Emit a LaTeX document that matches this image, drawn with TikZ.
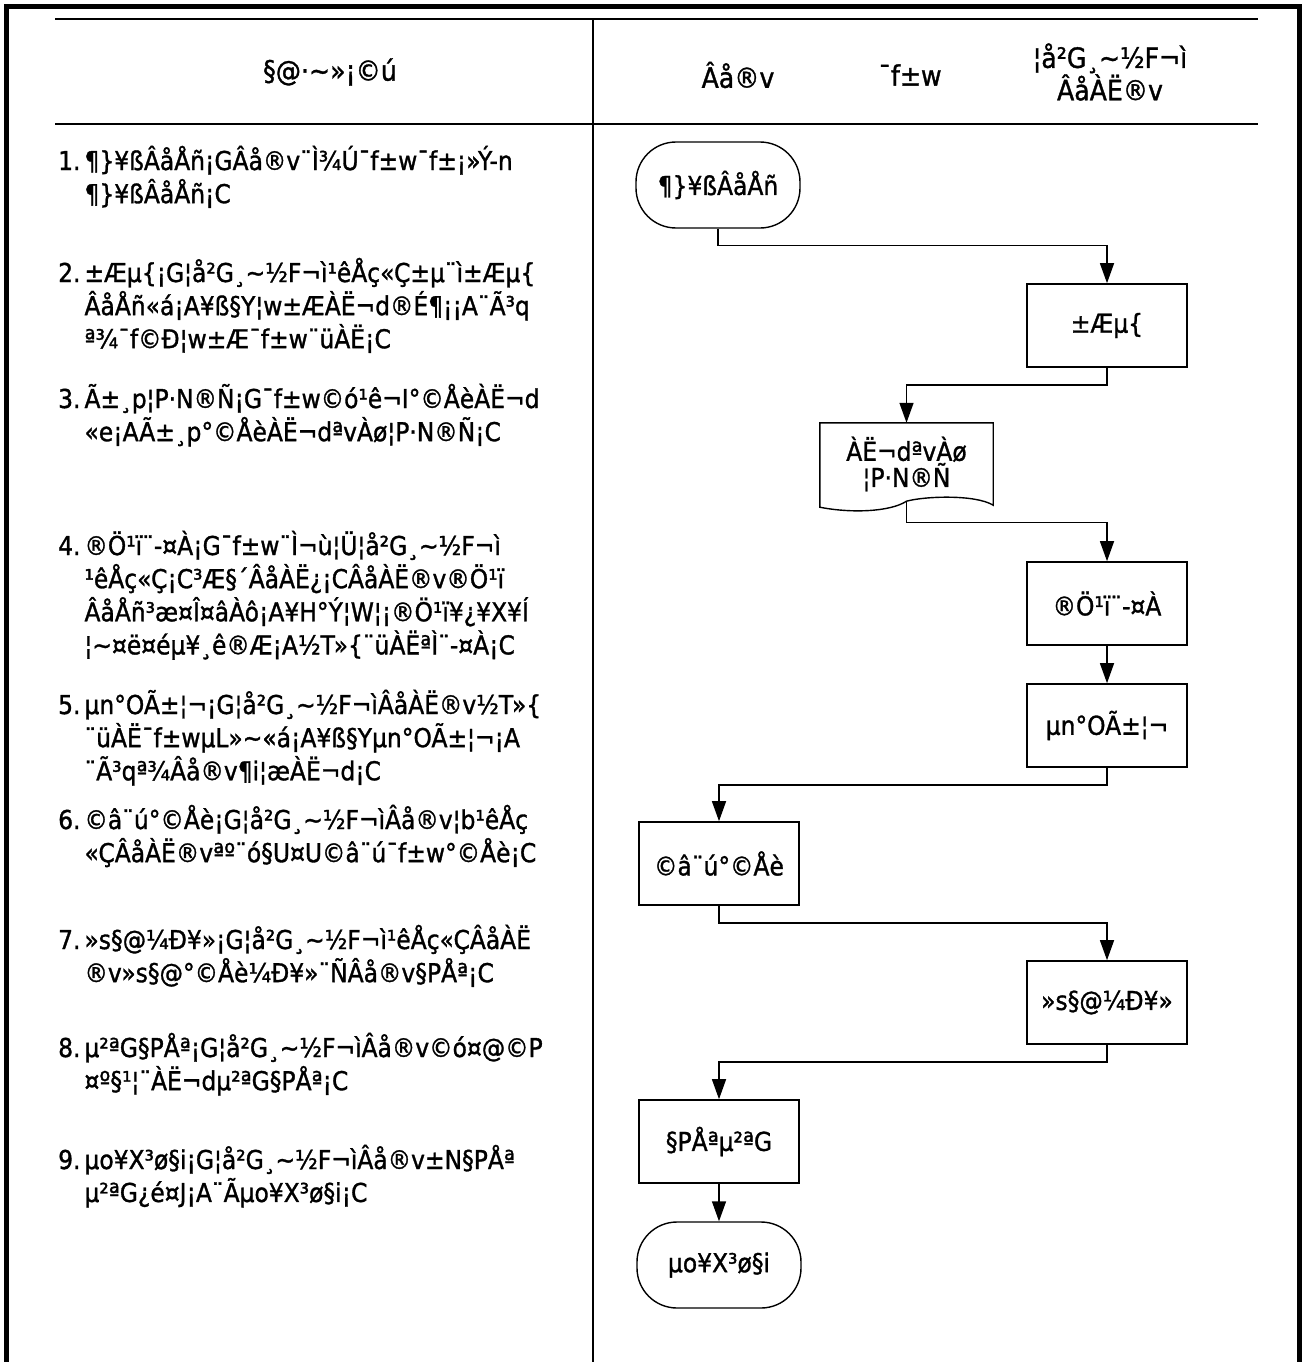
\documentclass[tikz,border=0pt]{standalone}
\usepackage{fontspec}
\setmainfont{DejaVu Sans}[FakeStretch=0.9,FakeBold=1.2]
\usetikzlibrary{arrows.meta,positioning,calc}

\newcommand{\wave}{\textasciitilde}
\newcommand{\stepnote}[2]{\begin{tabular}[t]{@{}l@{\hspace{4pt}}l@{}}#1&#2\end{tabular}}

\begin{document}
\begin{tikzpicture}[x=1pt, y=-1pt, >={Triangle[length=20pt,width=14pt]},
  every node/.style={font=\fontsize{26}{30}\selectfont},
  procbox/.style={draw, line width=1.6pt, minimum width=160pt, minimum height=83pt, inner sep=2pt},
  termbox/.style={draw, line width=1.4pt, rounded corners=40pt, minimum width=164pt, minimum height=86pt},
  docbox/.style={minimum width=173pt, minimum height=82pt, inner sep=0pt, align=center,
    font=\fontsize{26}{25}\selectfont},
  flow/.style={->, line width=1.4pt},
  note/.style={anchor=base west, inner sep=0pt}]
  \useasboundingbox (0,0) rectangle (1309,1362);

  % frame and table
  \draw[line width=5pt] (6,1362) -- (6,7) -- (1299,7) -- (1299,1362);
  \draw[line width=1.6pt] (55,19) -- (1258,19);
  \draw[line width=1.6pt] (55,124) -- (1258,124);
  \draw[line width=1.2pt] (593,19) -- (593,1362);

  % header
  \node[font=\fontsize{28}{30}\selectfont] (hdnote) at (330,72) {§@·\wave»¡©ú};
  \node[font=\fontsize{28}{30}\selectfont] (hddoc) at (738,75) {Âå®v};
  \node[font=\fontsize{28}{30}\selectfont] (hdpat) at (910,75) {¯f±w};
  \node[align=center, font=\fontsize{28}{28}\selectfont] (hdlab) at (1110,72) {¦å²G¸\wave½F¬ì\\ÂåÀË®v};

  % flow chart
  \node[termbox] (order) at (718,185) {¶\}¥ßÂåÅñ};
  \node[procbox] (sched) at (1107,325.5) {±Æµ\{};
  \node[docbox] (consent) at (906.5,464) {ÀË¬dªvÀø\\¦P·N®Ñ};
  \coordinate (consentout) at ($(consent.south)+(0,-4)$);
  \draw[line width=1.4pt] (consent.south west) -- (consent.north west) -- (consent.north east)
    -- (consent.south east) .. controls +(-18,-11) and +(18,-5) .. (consentout)
    .. controls +(-17,11) and +(30,6) .. ($(consent.south west)+(0,2)$) -- cycle;
  \node[procbox] (verify) at (1107,603.5) {®Ö¹ï¨-¤À};
  \node[procbox] (register) at (1107,725.5) {µn°OÃ±¦¬};
  \node[procbox] (aspirate) at (719,863.5) {©â¨ú°©Åè};
  \node[procbox] (specimen) at (1107,1002.5) {»s§@¼Ð¥»};
  \node[procbox] (reading) at (719,1141.5) {§PÅªµ²ªG};
  \node[termbox] (report) at (719,1265) {µo¥X³ø§i};

  \draw[flow] (order.south) -- ++(0,17) -| (sched.north);
  \draw[flow] (sched.south) -- ++(0,17) -| (consent.north);
  \draw[flow] (consentout) -- ++(0,21) -| (verify.north);
  \draw[flow] (verify.south) -- (register.north);
  \draw[flow] (register.south) -- ++(0,17) -| (aspirate.north);
  \draw[flow] (aspirate.south) -- ++(0,17) -| (specimen.north);
  \draw[flow] (specimen.south) -- ++(0,17) -| (reading.north);
  \draw[flow] (reading.south) -- (report.north);

  % notes
  \node[note] (note1) at (58,170) {\stepnote{1.}{¶\}¥ßÂåÅñ¡GÂå®v¨Ì¾Ú¯f±w¯f±¡»Ý-n\\&¶\}¥ßÂåÅñ¡C}};
  \node[note] (note2) at (58,282) {\stepnote{2.}{±Æµ\{¡G¦å²G¸\wave½F¬ì¹êÅç«Ç±µ¨ì±Æµ\{\\&ÂåÅñ«á¡A¥ß§Y¦w±ÆÀË¬d®É¶¡¡A¨Ã³q\\&ª¾¯f©Ð¦w±Æ¯f±w¨üÀË¡C}};
  \node[note] (note3) at (58,408) {\stepnote{3.}{Ã±¸p¦P·N®Ñ¡G¯f±w©ó¹ê¬I°©ÅèÀË¬d\\&«e¡AÃ±¸p°©ÅèÀË¬dªvÀø¦P·N®Ñ¡C}};
  \node[note] (note4) at (58,555) {\stepnote{4.}{®Ö¹ï¨-¤À¡G¯f±w¨Ì¬ù¦Ü¦å²G¸\wave½F¬ì\\&¹êÅç«Ç¡C³Æ§´ÂåÀË¿¡CÂåÀË®v®Ö¹ï\\&ÂåÅñ³æ¤Î¤âÀô¡A¥H°Ý¦W¦¡®Ö¹ï¥¿¥X¥Í\\&¦\wave¤ë¤éµ¥¸ê®Æ¡A½T»\{¨üÀËªÌ¨-¤À¡C}};
  \node[note] (note5) at (58,714) {\stepnote{5.}{µn°OÃ±¦¬¡G¦å²G¸\wave½F¬ìÂåÀË®v½T»\{\\&¨üÀË¯f±wµL»\wave«á¡A¥ß§Yµn°OÃ±¦¬¡A\\&¨Ã³qª¾Âå®v¶i¦æÀË¬d¡C}};
  \node[note] (note6) at (58,829) {\stepnote{6.}{©â¨ú°©Åè¡G¦å²G¸\wave½F¬ìÂå®v¦b¹êÅç\\&«ÇÂåÀË®vªº¨ó§U¤U©â¨ú¯f±w°©Åè¡C}};
  \node[note] (note7) at (58,949) {\stepnote{7.}{»s§@¼Ð¥»¡G¦å²G¸\wave½F¬ì¹êÅç«ÇÂåÀË\\&®v»s§@°©Åè¼Ð¥»¨ÑÂå®v§PÅª¡C}};
  \node[note] (note8) at (58,1057) {\stepnote{8.}{µ²ªG§PÅª¡G¦å²G¸\wave½F¬ìÂå®v©ó¤@©P\\&¤º§¹¦¨ÀË¬dµ²ªG§PÅª¡C}};
  \node[note] (note9) at (58,1169) {\stepnote{9.}{µo¥X³ø§i¡G¦å²G¸\wave½F¬ìÂå®v±N§PÅª\\&µ²ªG¿é¤J¡A¨Ãµo¥X³ø§i¡C}};
\end{tikzpicture}
\end{document}
